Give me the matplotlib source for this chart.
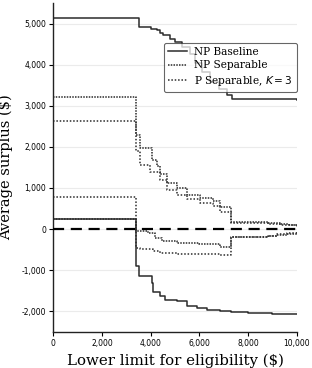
import matplotlib
matplotlib.use("Agg")
import matplotlib.pyplot as plt
from matplotlib.ticker import FuncFormatter

# Lower limit for eligibility ($) breakpoints for each step curve
x_base_top = [0, 3530, 4000, 4250, 4400, 4520, 4800, 5000, 5300, 5600, 5820, 6100, 6440, 6800, 7120, 7330, 10000]
y_base_top = [5130, 4910, 4870, 4840, 4760, 4720, 4620, 4560, 4420, 4250, 4040, 3820, 3580, 3420, 3260, 3160, 3150]

x_base_bot = [0, 3400, 3500, 4040, 4110, 4380, 4590, 5070, 5480, 5900, 6300, 6850, 7300, 8000, 9000, 10000]
y_base_bot = [250, -910, -1150, -1310, -1540, -1640, -1720, -1760, -1880, -1920, -1960, -2000, -2020, -2040, -2060, -2080]

x_sep_top = [0, 3400, 3560, 4040, 4250, 4380, 4650, 5070, 5480, 6020, 6560, 6850, 7300, 8000, 8800, 9300, 9700, 10000]
y_sep_top = [3220, 2290, 1970, 1690, 1530, 1330, 1120, 1000, 835, 750, 670, 535, 180, 170, 150, 130, 100, 60]

x_psep_top = [0, 3400, 3560, 3970, 4380, 4650, 5070, 5480, 6020, 6560, 6850, 7300, 8000, 8800, 9300, 9700, 10000]
y_psep_top = [2640, 1890, 1565, 1400, 1200, 955, 835, 735, 633, 567, 414, 150, 140, 130, 110, 90, 50]

x_sep_bot = [0, 3400, 3900, 4180, 4450, 5070, 6000, 6850, 7300, 8000, 8800, 9200, 9600, 10000]
y_sep_bot = [250, -60, -100, -220, -300, -340, -360, -440, -200, -190, -170, -140, -110, -70]

x_psep_bot = [0, 3400, 3560, 4110, 4380, 5070, 6000, 6850, 7300, 8000, 8800, 9200, 9600, 10000]
y_psep_bot = [780, -460, -490, -545, -585, -610, -620, -640, -195, -185, -160, -130, -100, -60]

labels = ["NP Baseline", "NP Separable", "P Separable, $K = 3$"]
x_ticks = [0, 2000, 4000, 6000, 8000, 10000]
y_ticks = [-2000, -1000, 0, 1000, 2000, 3000, 4000, 5000]

fig = plt.figure(figsize=(3.12, 3.68), dpi=100)
ax = fig.add_axes([0.171, 0.0986, 0.780, 0.893])

c = "#2b2b2b"
ax.plot(x_sep_bot, y_sep_bot, drawstyle="steps-post", color=c, lw=1.1, ls=(0, (1, 0.8)))
ax.plot(x_psep_bot, y_psep_bot, drawstyle="steps-post", color=c, lw=1.1, ls=(0, (1, 1.2)))
l2, = ax.plot(x_sep_top, y_sep_top, drawstyle="steps-post", color=c, lw=1.1, ls=(0, (1, 0.8)))
l3, = ax.plot(x_psep_top, y_psep_top, drawstyle="steps-post", color=c, lw=1.1, ls=(0, (1, 1.2)))
l1, = ax.plot(x_base_top, y_base_top, drawstyle="steps-post", color=c, lw=1.1, ls="-")
ax.plot(x_base_bot, y_base_bot, drawstyle="steps-post", color=c, lw=1.1, ls="-")

ax.axhline(0, color="black", lw=1.6, ls=(0, (5, 3)), zorder=5)

ax.set_xlim(0, 10000)
ax.set_ylim(-2500, 5500)
ax.set_xticks(x_ticks)
ax.set_yticks(y_ticks)
fmt = FuncFormatter(lambda v, p: f"{int(v):,}")
ax.xaxis.set_major_formatter(fmt)
ax.yaxis.set_major_formatter(fmt)
ax.tick_params(labelsize=5.5, length=3, width=0.8, pad=2)
ax.grid(axis="y", color="#ebebeb", lw=0.8)
ax.set_axisbelow(True)
for s in ["top", "right"]:
    ax.spines[s].set_visible(False)
for s in ["left", "bottom"]:
    ax.spines[s].set_linewidth(1.0)
    ax.spines[s].set_color("#222222")

ax.set_xlabel("Lower limit for eligibility ($)", family="DejaVu Serif", fontsize=10.8, labelpad=4)
ax.set_ylabel("Average surplus ($)", family="DejaVu Serif", fontsize=10.5, labelpad=6)

leg = ax.legend([l1, l2, l3], labels, loc="upper right", bbox_to_anchor=(1.0, 0.88),
                prop={"family": "DejaVu Serif", "size": 7.6}, framealpha=0.75,
                edgecolor="#333333", handlelength=1.8, labelspacing=0.35,
                borderpad=0.4, handletextpad=0.6, borderaxespad=0.0, fancybox=True)
leg.get_frame().set_linewidth(0.8)

fig.savefig("out.png", dpi=100)
